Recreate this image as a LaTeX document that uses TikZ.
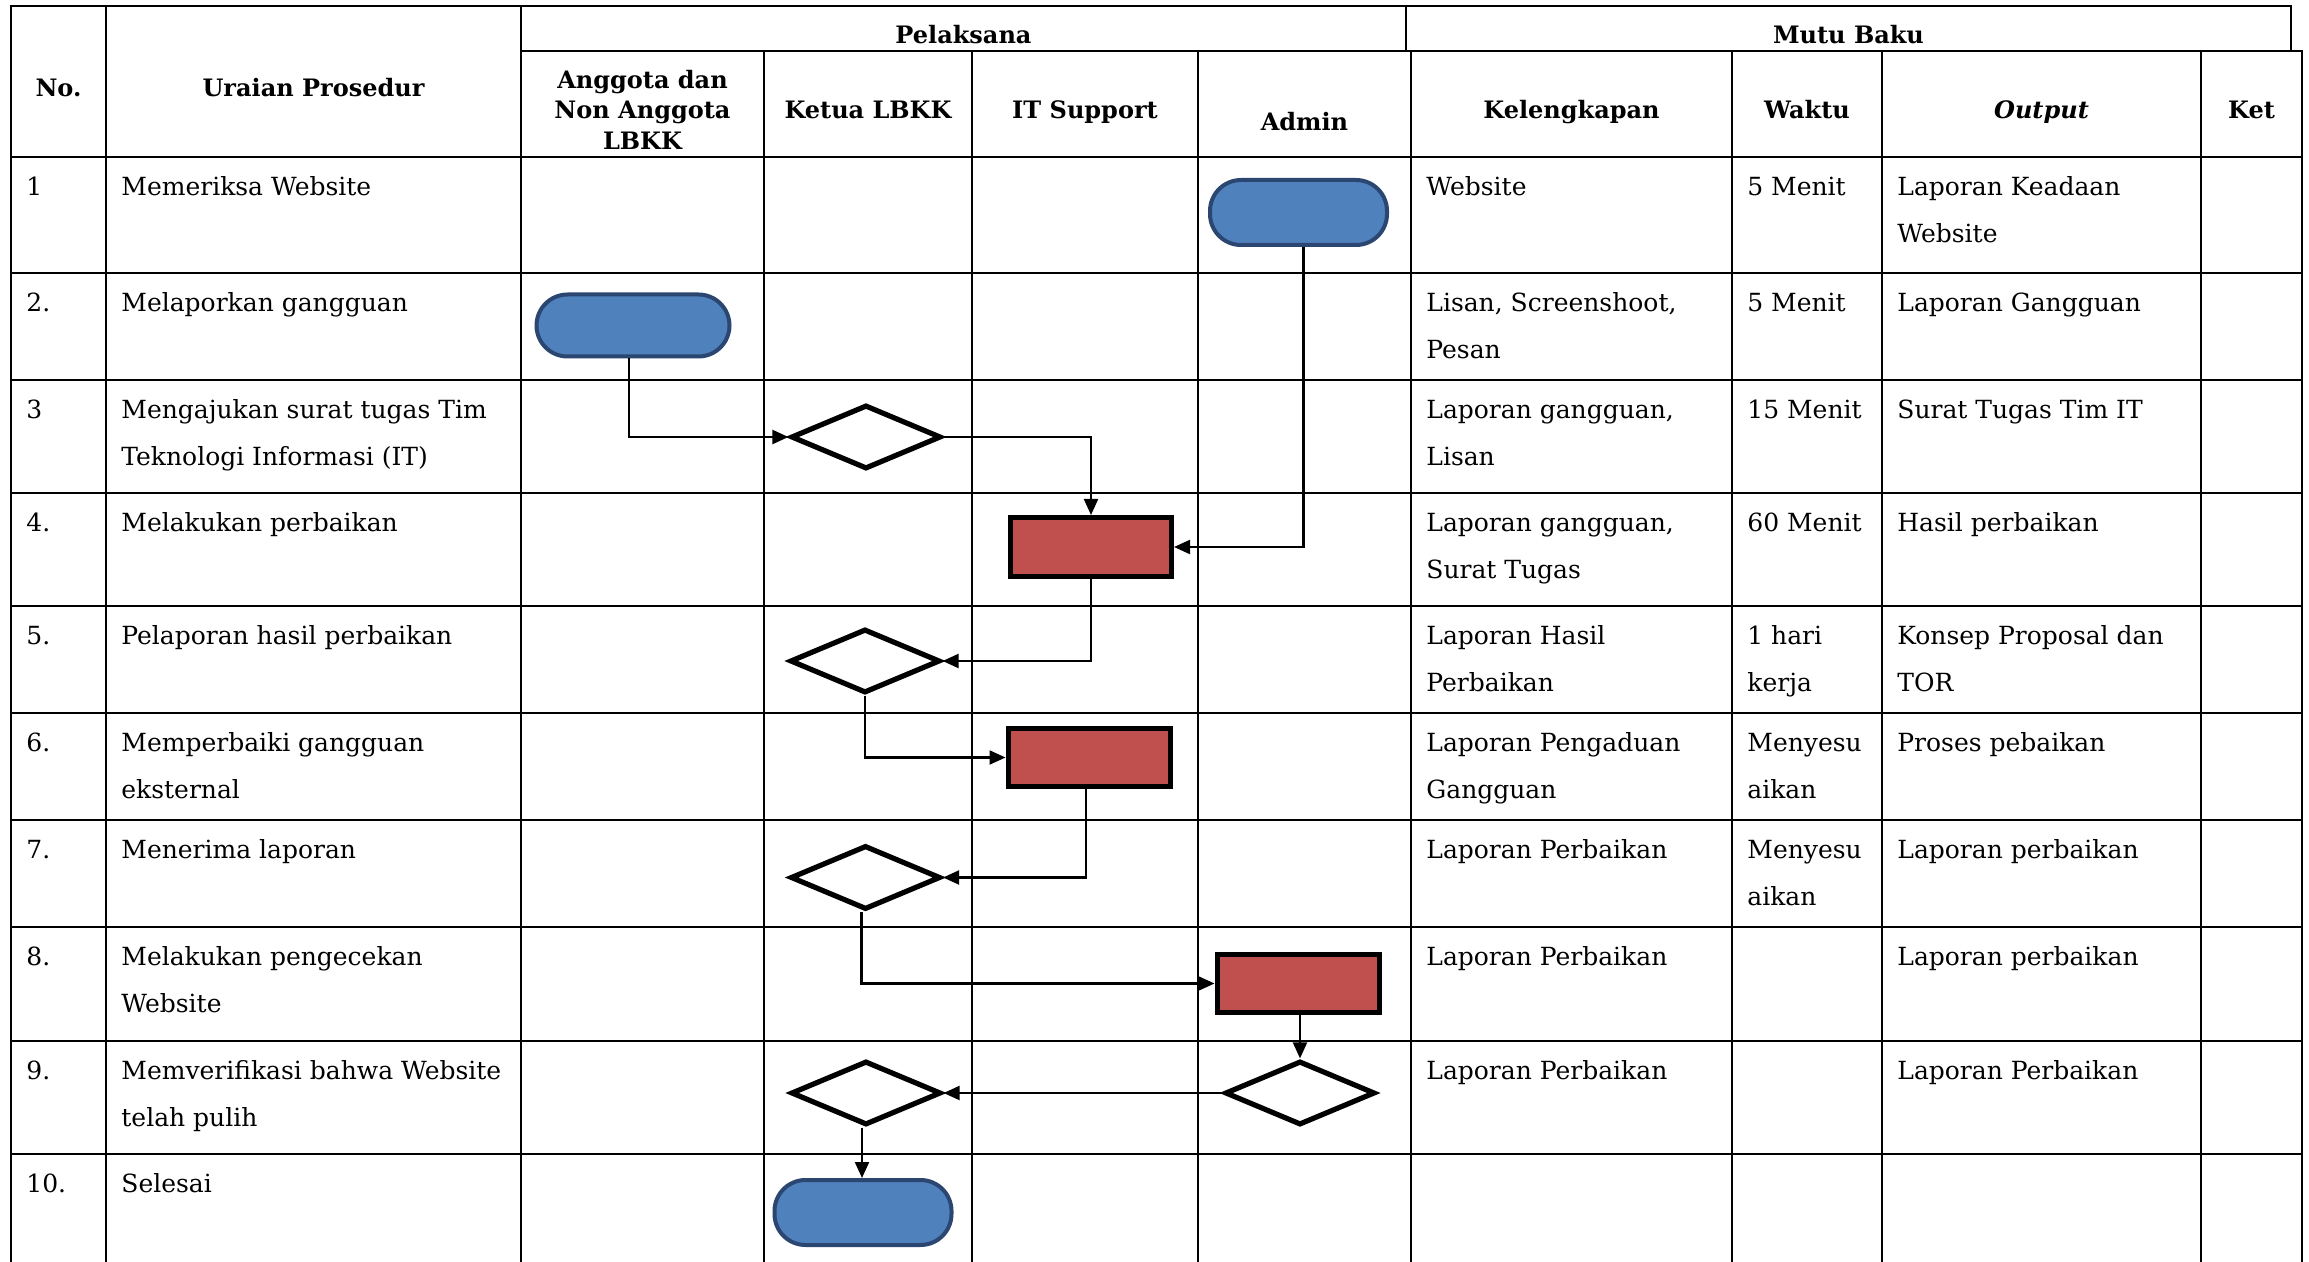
\documentclass[tikz,border=0pt]{standalone}
\usepackage{fontspec}
\setmainfont{DejaVu Serif}
\usetikzlibrary{shapes.geometric,arrows.meta}
\definecolor{termfill}{HTML}{4F81BD}
\definecolor{termline}{HTML}{2B4670}
\definecolor{procfill}{HTML}{C0504D}
\newcommand\bodyfnt{\fontsize{12.5}{23.25}\selectfont}
\newcommand\headfnt{\fontsize{12}{15.25}\selectfont\bfseries}
\newcommand\cellstr{\rule{0pt}{12pt}}
\tikzset{
  grid/.style={line width=1.1pt, line cap=rect},
  cell/.style={anchor=north west, inner sep=0pt, align=left, font=\bodyfnt},
  head/.style={anchor=base, inner sep=0pt, font=\headfnt},
  term/.style={draw=termline, fill=termfill, line width=2pt, rounded corners=15.5pt, inner sep=0pt, minimum width=88.5pt, minimum height=32.5pt},
  proc/.style={draw=black, fill=procfill, line width=2.5pt, inner sep=0pt, minimum width=80.5pt, minimum height=29.5pt},
  dec/.style={diamond, draw=black, fill=white, line width=2.6pt, inner sep=0pt, minimum width=75pt, minimum height=32pt},
  conn/.style={line width=1.1pt, -{Triangle[length=8pt,width=7pt]}}
}
\begin{document}
\begin{tikzpicture}[x=0.5pt,y=-0.5pt]
\path[use as bounding box, fill=white] (0,0) rectangle (2309,1262);
% table grid
\draw[grid] (11,6) -- (2291,6);
\draw[grid] (521,51) -- (2302,51);
\foreach \r in {157,273,380,493,606,713,820,927,1041,1154}
  \draw[grid] (11,\r) -- (2302,\r);
\foreach \c in {11,106,521}
  \draw[grid] (\c,6) -- (\c,1262);
\foreach \c in {764,972,1198,1411,1732,1882,2201,2302}
  \draw[grid] (\c,51) -- (\c,1262);
\draw[grid] (1406,6) -- (1406,51);
\draw[grid] (2291,6) -- (2291,51);
% headers
\node[head] (hpel) at (963.5,44) {Pelaksana};
\node[head] (hmutu) at (1848.5,44) {Mutu Baku};
\node[head] (hno) at (58.5,97) {No.};
\node[head] (hur) at (313.5,97) {Uraian Prosedur};
\node[head, anchor=north, align=center] (hang) at (642.5,64) {\cellstr Anggota dan\\Non Anggota\\LBKK};
\node[head] (hket) at (868,119) {Ketua LBKK};
\node[head] (hit) at (1085,119) {IT Support};
\node[head] (hadm) at (1304.5,131) {Admin};
\node[head] (hkel) at (1571.5,119) {Kelengkapan};
\node[head] (hwak) at (1807,119) {Waktu};
\node[head] (hout) at (2041.5,119) {\itshape Output};
\node[head] (hk) at (2251.5,119) {Ket};
% row texts
\node[cell] (no1) at (26,171.5) {\cellstr 1};
\node[cell] (up1) at (121,171.5) {\cellstr Memeriksa Website};
\node[cell] (kl1) at (1426,171.5) {\cellstr Website};
\node[cell] (wk1) at (1747,171.5) {\cellstr 5 Menit};
\node[cell] (op1) at (1897,171.5) {\cellstr Laporan Keadaan\\Website};

\node[cell] (no2) at (26,287.5) {\cellstr 2.};
\node[cell] (up2) at (121,287.5) {\cellstr Melaporkan gangguan};
\node[cell] (kl2) at (1426,287.5) {\cellstr Lisan, Screenshoot,\\Pesan};
\node[cell] (wk2) at (1747,287.5) {\cellstr 5 Menit};
\node[cell] (op2) at (1897,287.5) {\cellstr Laporan Gangguan};

\node[cell] (no3) at (26,394.5) {\cellstr 3};
\node[cell] (up3) at (121,394.5) {\cellstr Mengajukan surat tugas Tim\\Teknologi Informasi (IT)};
\node[cell] (kl3) at (1426,394.5) {\cellstr Laporan gangguan,\\Lisan};
\node[cell] (wk3) at (1747,394.5) {\cellstr 15 Menit};
\node[cell] (op3) at (1897,394.5) {\cellstr Surat Tugas Tim IT};

\node[cell] (no4) at (26,507.5) {\cellstr 4.};
\node[cell] (up4) at (121,507.5) {\cellstr Melakukan perbaikan};
\node[cell] (kl4) at (1426,507.5) {\cellstr Laporan gangguan,\\Surat Tugas};
\node[cell] (wk4) at (1747,507.5) {\cellstr 60 Menit};
\node[cell] (op4) at (1897,507.5) {\cellstr Hasil perbaikan};

\node[cell] (no5) at (26,620.5) {\cellstr 5.};
\node[cell] (up5) at (121,620.5) {\cellstr Pelaporan hasil perbaikan};
\node[cell] (kl5) at (1426,620.5) {\cellstr Laporan Hasil\\Perbaikan};
\node[cell] (wk5) at (1747,620.5) {\cellstr 1 hari\\kerja};
\node[cell] (op5) at (1897,620.5) {\cellstr Konsep Proposal dan\\TOR};

\node[cell] (no6) at (26,727.5) {\cellstr 6.};
\node[cell] (up6) at (121,727.5) {\cellstr Memperbaiki gangguan\\eksternal};
\node[cell] (kl6) at (1426,727.5) {\cellstr Laporan Pengaduan\\Gangguan};
\node[cell] (wk6) at (1747,727.5) {\cellstr Menyesu\\aikan};
\node[cell] (op6) at (1897,727.5) {\cellstr Proses pebaikan};

\node[cell] (no7) at (26,834.5) {\cellstr 7.};
\node[cell] (up7) at (121,834.5) {\cellstr Menerima laporan};
\node[cell] (kl7) at (1426,834.5) {\cellstr Laporan Perbaikan};
\node[cell] (wk7) at (1747,834.5) {\cellstr Menyesu\\aikan};
\node[cell] (op7) at (1897,834.5) {\cellstr Laporan perbaikan};

\node[cell] (no8) at (26,941.5) {\cellstr 8.};
\node[cell] (up8) at (121,941.5) {\cellstr Melakukan pengecekan\\Website};
\node[cell] (kl8) at (1426,941.5) {\cellstr Laporan Perbaikan};
\node[cell] (op8) at (1897,941.5) {\cellstr Laporan perbaikan};

\node[cell] (no9) at (26,1055.5) {\cellstr 9.};
\node[cell] (up9) at (121,1055.5) {\cellstr Memverifikasi bahwa Website\\telah pulih};
\node[cell] (kl9) at (1426,1055.5) {\cellstr Laporan Perbaikan};
\node[cell] (op9) at (1897,1055.5) {\cellstr Laporan Perbaikan};

\node[cell] (no10) at (26,1168.5) {\cellstr 10.};
\node[cell] (up10) at (121,1168.5) {\cellstr Selesai};
% flow shapes
\node[term] (t1) at (1298.5,212.5) {};
\node[term, minimum width=96.5pt, minimum height=31pt] (t2) at (633,325.5) {};
\node[dec] (d3) at (866,437) {};
\node[proc] (p4) at (1091,547) {};
\node[dec] (d5) at (865,661) {};
\node[proc, minimum width=81pt, minimum height=29pt] (p6) at (1089,757.5) {};
\node[dec] (d7) at (865.5,877.5) {};
\node[proc, minimum width=81pt, minimum height=29pt] (p8) at (1298,983.5) {};
\node[dec] (d9a) at (866,1093) {};
\node[dec] (d9b) at (1300,1093) {};
\node[term] (t10) at (863,1212.5) {};
% connectors
\draw[conn] ([xshift=-2pt]t2.south) |- (d3.west);
\draw[conn] (d3.east) -| (p4.north);
\draw[conn] ([xshift=2.5pt]t1.south) |- (p4.east);
\draw[conn] (p4.south) |- (d5.east);
\draw[conn] (d5.south) |- (p6.west);
\draw[conn] ([xshift=-1.5pt]p6.south) |- (d7.east);
\draw[conn] ([xshift=-2pt]d7.south) |- (p8.west);
\draw[conn] (d9b.north |- p8.south) -- (d9b.north);
\draw[conn] (d9b.west) -- (d9a.east);
\draw[conn] ([xshift=-2pt]d9a.south) -- ([xshift=-2pt]d9a.south |- t10.north);
\end{tikzpicture}
\end{document}
